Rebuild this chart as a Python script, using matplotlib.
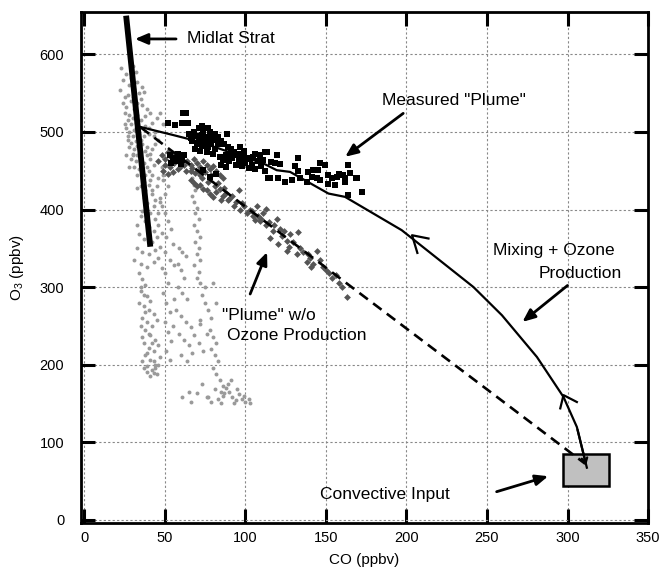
import numpy as np
import matplotlib
matplotlib.use("Agg")
import matplotlib.pyplot as plt
from matplotlib.patches import Rectangle

plt.rcParams['font.family'] = ['Liberation Sans', 'DejaVu Sans']
plt.rcParams['mathtext.default'] = 'regular'

# light gray cloud (stratospheric / background samples), CO, O3
gray_co = [23, 24, 22, 25, 36, 35, 26, 28, 27, 24, 26, 29, 31, 25, 28, 30, 33, 27, 29, 32,
           26, 28, 31, 34, 30, 27, 29, 32, 35, 28, 31, 33, 36, 30, 33, 35, 38, 29, 32, 35,
           37, 31, 34, 36, 39, 33, 36, 38, 41, 40, 42, 45, 38, 44, 47, 49, 43, 46, 39, 41,
           35, 38, 40, 42, 37, 39, 43, 36, 41, 44, 38, 40, 43, 46, 34, 37, 42, 45, 48, 33,
           36, 40, 44, 47, 31, 35, 39, 43, 46, 50, 52, 54, 51, 55, 50, 53, 56, 48, 42, 46,
           49, 52, 48, 49, 50, 47,
           30, 32, 29, 33, 31, 34, 37, 30, 33, 36, 39, 41, 35, 38, 40, 37, 34, 39, 42, 44,
           41, 43, 40, 42, 37, 33, 45, 47, 44, 39, 35, 33, 46, 48, 25, 27, 30, 26, 28, 32,
           66, 67, 68, 69, 67, 68, 70, 69, 71, 68, 70, 72, 69, 71, 70, 72, 68, 71, 70, 72,
           58, 60, 63, 62, 59, 61,
           34, 36, 38, 35, 39, 41, 37, 40, 43, 36, 39, 42, 45, 38, 41, 44, 37, 40, 43, 46,
           38, 41, 44, 39, 42, 45, 36, 47,
           35, 37, 34, 38, 35, 40, 36, 42, 39, 43, 37, 44, 46, 41,
           50, 52, 49, 51, 53, 50, 52, 54, 51, 53, 55, 56,
           58, 61, 64, 57, 60, 63, 66, 59, 62, 65, 68, 71, 74, 77, 79, 73, 75, 80, 82, 60,
           64, 67, 72, 76,
           78, 80, 82, 79, 81, 83, 80, 82, 84, 86, 81, 85,
           76, 79, 83, 86, 88, 90, 92, 94, 96, 98, 100, 102, 89, 91, 87, 95, 99, 103, 85, 93,
           39, 43, 61, 65, 70, 73, 66, 77, 72, 75]
gray_o3 = [582, 567, 554, 545, 558, 543, 575, 560, 548, 538, 532, 540, 530, 525, 522, 518, 522, 515, 510, 512,
           505, 500, 502, 498, 495, 490, 486, 488, 490, 480, 478, 482, 484, 472, 470, 474, 476, 465, 462, 466,
           460, 455, 452, 448, 455, 445, 440, 444, 438, 505, 512, 518, 520, 500, 524, 510, 495, 490, 470, 465,
           430, 425, 432, 420, 415, 408, 405, 398, 395, 388, 385, 378, 372, 380, 368, 362, 358, 365, 370, 350,
           345, 342, 348, 352, 335, 330, 326, 332, 338, 395, 385, 375, 365, 355, 345, 335, 328, 325, 425, 440,
           445, 430, 455, 438, 420, 410,
           585, 578, 570, 565, 556, 550, 552, 545, 537, 535, 530, 525, 515, 508, 498, 495, 485, 480, 478, 484,
           472, 458, 450, 445, 435, 428, 430, 415, 412, 400, 392, 380, 395, 405, 510, 495, 470, 470, 455, 505,
           448, 440, 432, 425, 418, 410, 402, 395, 388, 380, 372, 365, 358, 350, 342, 335, 328, 320, 312, 305,
           330, 322, 340, 312, 350, 345,
           318, 310, 302, 295, 288, 282, 276, 270, 265, 260, 255, 250, 258, 244, 238, 232, 228, 222, 218, 225,
           212, 206, 200, 198, 193, 188, 205, 210,
           300, 290, 280, 268, 250, 240, 235, 228, 215, 205, 195, 195, 200, 185,
           318, 305, 292, 280, 268, 255, 242, 230, 218, 206, 250, 285,
           300, 292, 285, 270, 262, 255, 248, 240, 232, 225, 238, 228, 218, 270, 260, 290, 300, 305, 280, 212,
           205, 215, 252, 240,
           244, 236, 228, 220, 212, 204, 196, 188, 180, 172, 168, 164,
           158, 152, 156, 160, 170, 165, 158, 154, 162, 156, 152, 155, 175, 180, 163, 168, 160, 150, 150, 150,
           190, 189, 158, 165, 163, 175, 152, 158, 257, 279]

# "Plume" without ozone production (dark gray)
plume_co = [48, 50, 52, 54, 56, 50, 53, 56, 58, 49, 52, 55, 60, 57, 46,
            64, 66, 68, 70, 72, 74, 76, 78, 80, 66, 69, 72, 75, 79, 82, 84, 86,
            66, 68, 70, 72, 74, 76, 78, 80, 82, 84, 86, 88, 90, 92, 94, 96, 98, 99, 85,
            103, 107, 111, 113, 115, 119.5, 121.6, 115.3, 120.5, 125.7, 129.8, 132.9, 125.7, 131.9,
            136, 140.2, 144.3, 146.4, 148.4, 142.2, 138.1, 150, 152, 154, 156, 158, 160, 163,
            104, 108, 110, 106, 118, 124, 128,
            58, 62, 63, 67, 71, 73, 77, 81, 83, 87, 89, 93, 97, 101, 105, 109, 113, 117, 123,
            127, 134, 139, 141]
plume_o3 = [470, 465, 474, 468, 472, 458, 455, 460, 452, 450, 446, 448, 456, 466, 462,
            462, 458, 465, 460, 455, 462, 458, 452, 456, 450, 447, 444, 448, 445, 450, 444, 440,
            438, 434, 430, 432, 426, 425, 420, 416, 422, 427, 418, 421, 414, 418, 410, 425, 408, 404, 412,
            399, 405, 395, 401, 384, 388, 375, 363, 356, 360, 358, 371, 347, 343,
            345, 337, 347, 335, 326, 330, 332, 322, 318, 312, 315, 305, 300, 287,
            398, 392, 388, 386, 380, 372, 368,
            462, 458, 450, 454, 450, 440, 436, 430, 434, 428, 412, 404, 400, 396, 392, 385, 380, 372, 366,
            352, 350, 342, 326]

# measured "Plume" (black squares)
meas_co = [61.6, 63.2, 52.2, 56.3, 60.5, 64.6, 72.9, 88.4, 96.7, 106, 112.2, 114.3,
           68, 70, 72, 74, 76, 78, 80, 82, 70, 73, 75, 77, 79, 81, 69, 72, 76, 80, 74, 78, 66, 83, 71, 77,
           53, 55, 57, 59, 61, 54, 58, 60, 62,
           84, 86, 88, 90, 92, 94, 96, 98, 100, 102, 104, 106, 108, 110, 112, 85, 91, 99, 103, 88,
           74, 78, 82,
           113.3, 119.5, 132.5, 116, 121.6, 118.4, 130.9, 132.9, 139.1, 142.2, 145.3, 146.4, 149.5,
           115.3, 120.5, 124.7, 128.8, 134, 138.1, 141.2, 144.3, 146.4, 151.6, 153.7, 156.8, 160.9,
           162, 169.2, 151.6, 155.7, 164, 172.3, 164, 158, 165, 162, 168.8,
           65, 67, 71, 73, 75, 79, 81, 83, 85, 87, 89, 91, 93, 95, 97, 99, 101, 105, 109, 111]
meas_o3 = [524.6, 524.6, 511, 508.8, 511, 511.7, 507.5, 498, 480.8, 472, 474.3, 440,
           500, 495, 490, 498, 493, 488, 495, 490, 485, 482, 486, 480, 484, 478, 478, 475, 474, 472, 502, 500, 492, 484, 505, 505,
           470, 466, 462, 468, 464, 460, 472, 459, 470,
           468, 464, 470, 462, 466, 458, 464, 456, 460, 454, 458, 452, 462, 456, 450, 458, 472, 468, 465, 455,
           451, 442, 446,
           474.3, 470, 466.6, 461, 458.5, 459.4, 455.9, 449.8, 448.5, 450.7, 451.6, 460.1, 457.2,
           440, 440, 435.6, 437.8, 440, 435.6, 442, 440, 437.8, 444.3, 440, 442, 444.3,
           435.6, 440, 433.5, 431.4, 418.5, 422.7, 457, 446, 447, 440, 440,
           498, 488, 492, 496, 490, 492, 498, 494, 488, 484, 480, 478, 474, 470, 472, 476, 466, 468, 470, 464]

# midlatitude stratosphere line
strat_co = [26, 41]
strat_o3 = [650, 352]

# mixing + ozone production path (solid)
mix_co = [34.6, 55.3, 71.9, 92.5, 111.2, 119.5, 127.8, 151.6, 161.9, 197.1, 241.6, 259.3, 281, 297.5, 305.8, 312]
mix_o3 = [506.6, 496, 487.2, 472.3, 459.4, 450.7, 448.5, 420.6, 416.3, 373.3, 300, 263.6, 209.8, 158.2, 119.5, 67]

# chevrons on the mixing path
chev1_co = [213.7, 203.5, 206.8]
chev1_o3 = [362.6, 366.8, 344]
chev2_co = [295.5, 297.5, 305.8]
chev2_o3 = [143.5, 160.6, 151.7]

# mixing without production (dashed)
dash_co = [35, 172.3, 250, 311]
dash_o3 = [506, 290, 168, 72]

# convective input box: CO range, O3 range
box_co = [297, 326]
box_o3 = [44, 84]

fig = plt.figure(figsize=(6.64, 5.76), dpi=100)
ax = fig.add_axes([0.122, 0.0925, 0.854, 0.887])

ax.scatter(gray_co, gray_o3, s=8, marker='o', color='#9a9a9a', linewidths=0, zorder=2)
ax.scatter(plume_co, plume_o3, s=12, marker='D', color='#555555', linewidths=0, zorder=3)
ax.scatter(meas_co, meas_o3, s=14, marker='s', color='black', linewidths=0, zorder=4)

ax.plot(strat_co, strat_o3, color='black', lw=4.2, solid_capstyle='butt', zorder=5)
ax.plot(mix_co, mix_o3, color='black', lw=1.6, zorder=5)
ax.plot(chev1_co, chev1_o3, color='black', lw=1.6, zorder=5)
ax.plot(chev2_co, chev2_o3, color='black', lw=1.6, zorder=5)
ax.plot(dash_co, dash_o3, color='black', lw=1.9, linestyle=(0, (4, 2.5)), zorder=5)
ax.annotate('', xy=(mix_co[-1], mix_o3[-1]), xytext=(mix_co[-2], mix_o3[-2]),
            arrowprops=dict(arrowstyle='->,head_length=0.35,head_width=0.2', lw=1.6, color='black'), zorder=6)

ax.add_patch(Rectangle((box_co[0], box_o3[0]), box_co[1] - box_co[0], box_o3[1] - box_o3[0],
                       facecolor='#c0c0c0', edgecolor='black', lw=1.8, zorder=4))

arrow = dict(arrowstyle='-|>,head_length=0.75,head_width=0.32', lw=2, color='black', shrinkA=0, shrinkB=0)
ax.annotate('', xy=(31.5, 620), xytext=(57, 620), arrowprops=arrow, zorder=6)
ax.annotate('', xy=(162, 468), xytext=(198, 524), arrowprops=arrow, zorder=6)
ax.annotate('', xy=(113.5, 345), xytext=(103, 291), arrowprops=arrow, zorder=6)
ax.annotate('', xy=(272, 255), xytext=(300, 302), arrowprops=arrow, zorder=6)
ax.annotate('', xy=(288, 56), xytext=(256, 36), arrowprops=arrow, zorder=6)

fs = 12.5
ax.text(64, 620, 'Midlat Strat', fontsize=fs, va='center', ha='left')
ax.text(184.6, 541, 'Measured "Plume"', fontsize=fs, va='center', ha='left')
ax.text(254, 347.5, 'Mixing + Ozone', fontsize=fs, va='center', ha='left')
ax.text(281.8, 317.4, 'Production', fontsize=fs, va='center', ha='left')
ax.text(85.3, 263.6, '"Plume" w/o', fontsize=fs, va='center', ha='left')
ax.text(88.8, 237.8, 'Ozone Production', fontsize=fs, va='center', ha='left')
ax.text(146.6, 32.7, 'Convective Input', fontsize=fs, va='center', ha='left')

ax.set_xlim(-2, 350)
ax.set_ylim(-4, 655)
ax.set_xticks(np.arange(0, 351, 50))
ax.set_yticks(np.arange(0, 601, 100))
ax.grid(True, linestyle=(0, (2, 2)), color='#888888', linewidth=0.8)
ax.set_axisbelow(True)
ax.tick_params(direction='in', length=10, width=2.2, top=True, right=True, labelsize=10.5)
ax.tick_params(axis='y', pad=12)
ax.tick_params(axis='x', pad=6)
for s in ax.spines.values():
    s.set_linewidth(2)

ax.set_xlabel('CO (ppbv)', fontsize=11, labelpad=6)
ax.set_ylabel('O$_3$ (ppbv)', fontsize=11, labelpad=10)

fig.savefig('out.png', dpi=100)
